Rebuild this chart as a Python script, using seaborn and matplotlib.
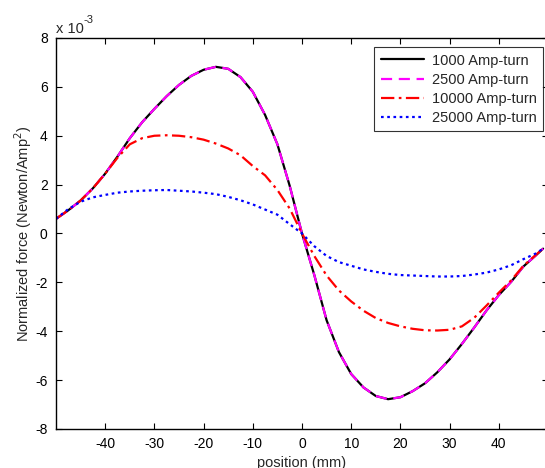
import matplotlib
matplotlib.use("Agg")
import matplotlib.pyplot as plt
import seaborn as sns
import pandas as pd
from matplotlib.ticker import FuncFormatter

# Position along the axis (mm)
position = [-50, -47.5, -45, -42.5, -40, -37.5, -35, -32.5, -30, -27.5, -25,
            -22.5, -20, -17.5, -15, -12.5, -10, -7.5, -5, -2.5, 0,
            2.5, 5, 7.5, 10, 12.5, 15, 17.5, 20, 22.5, 25,
            27.5, 30, 32.5, 35, 37.5, 40, 42.5, 45, 47.5, 49]

# Normalized force in units of 1e-3 Newton/Amp^2
force_1000 = [0.60, 0.95, 1.35, 1.85, 2.45, 3.15, 3.90, 4.55, 5.10, 5.62, 6.08,
              6.45, 6.70, 6.82, 6.74, 6.40, 5.80, 4.85, 3.65, 1.95, 0.0,
              -1.70, -3.55, -4.85, -5.75, -6.30, -6.65, -6.78, -6.70, -6.45, -6.13,
              -5.68, -5.15, -4.52, -3.85, -3.15, -2.52, -1.98, -1.35, -0.90, -0.62]
force_2500 = list(force_1000)
force_10000 = [0.60, 0.95, 1.35, 1.85, 2.45, 3.10, 3.65, 3.90, 4.00, 4.02, 4.00,
               3.94, 3.84, 3.68, 3.48, 3.20, 2.76, 2.38, 1.78, 1.02, 0.0,
               -0.92, -1.72, -2.33, -2.78, -3.16, -3.46, -3.66, -3.80, -3.90, -3.96,
               -3.97, -3.94, -3.80, -3.45, -2.95, -2.42, -1.92, -1.32, -0.88, -0.62]
force_25000 = [0.60, 1.00, 1.30, 1.48, 1.58, 1.67, 1.72, 1.75, 1.77, 1.78, 1.75,
               1.72, 1.67, 1.61, 1.50, 1.36, 1.19, 0.98, 0.77, 0.38, 0.0,
               -0.52, -0.92, -1.17, -1.32, -1.47, -1.57, -1.65, -1.70, -1.72, -1.74,
               -1.76, -1.76, -1.74, -1.68, -1.60, -1.47, -1.30, -1.05, -0.82, -0.62]

labels = ["1000 Amp-turn", "2500 Amp-turn", "10000 Amp-turn", "25000 Amp-turn"]
series = [force_1000, force_2500, force_10000, force_25000]
colors = ["black", "#ff00ff", "red", "blue"]
styles = ["-", (0, (5, 3)), (0, (6, 2, 1.2, 2)), (0, (1.2, 1.6))]
x_ticks = [-40, -30, -20, -10, 0, 10, 20, 30, 40]
y_ticks = [-8, -6, -4, -2, 0, 2, 4, 6, 8]

sns.set_style("ticks")
plt.rcParams["font.family"] = ["Liberation Sans", "DejaVu Sans"]
plt.rcParams["font.size"] = 10
plt.rcParams["axes.unicode_minus"] = False

fig = plt.figure(figsize=(5.45, 4.68), dpi=100)
ax = fig.add_axes([56 / 545, 1 - 429 / 468, (548 - 56) / 545, (429 - 38) / 468])

frames = []
for lab, vals in zip(labels, series):
    frames.append(pd.DataFrame({"position": position,
                                "force": [v * 1e-3 for v in vals],
                                "series": lab}))
df = pd.concat(frames, ignore_index=True)

for lab, col, ls in zip(labels, colors, styles):
    sns.lineplot(data=df[df["series"] == lab], x="position", y="force",
                 color=col, linestyle=ls, linewidth=1.6, label=lab,
                 estimator=None, sort=False, ax=ax)

ax.set_xlim(-50, 50)
ax.set_ylim(-8e-3, 8e-3)
ax.set_xticks(x_ticks)
ax.set_yticks([t * 1e-3 for t in y_ticks])
ax.yaxis.set_major_formatter(FuncFormatter(lambda v, p: f"{v * 1e3:g}"))
ax.tick_params(direction="in", top=True, right=True, length=4, width=0.8,
               labelsize=10, pad=6, colors="black")
for s in ax.spines.values():
    s.set_visible(True)
    s.set_linewidth(1.0)
    s.set_color("black")

ax.set_xlabel("position (mm)", fontsize=10.5, labelpad=3)
ax.set_ylabel("Normalized force (Newton/Amp$^2$)", fontsize=10.5, labelpad=1)

# Scale factor shown above the y axis
fig.text(56 / 545, 1 - 33 / 468, "x 10", fontsize=10.5, ha="left", va="baseline")
fig.text(84 / 545, 1 - 23 / 468, "-3", fontsize=8, ha="left", va="baseline")

leg = ax.legend(loc="upper right", bbox_to_anchor=(543 / 545, 1 - 47 / 468),
                bbox_transform=fig.transFigure, borderaxespad=0, frameon=True,
                fancybox=False, shadow=False, fontsize=10.5, handlelength=3.0,
                handletextpad=0.5, labelspacing=0.35, borderpad=0.45)
leg.get_frame().set_edgecolor("black")
leg.get_frame().set_linewidth(0.8)

fig.savefig("out.png", dpi=100)
